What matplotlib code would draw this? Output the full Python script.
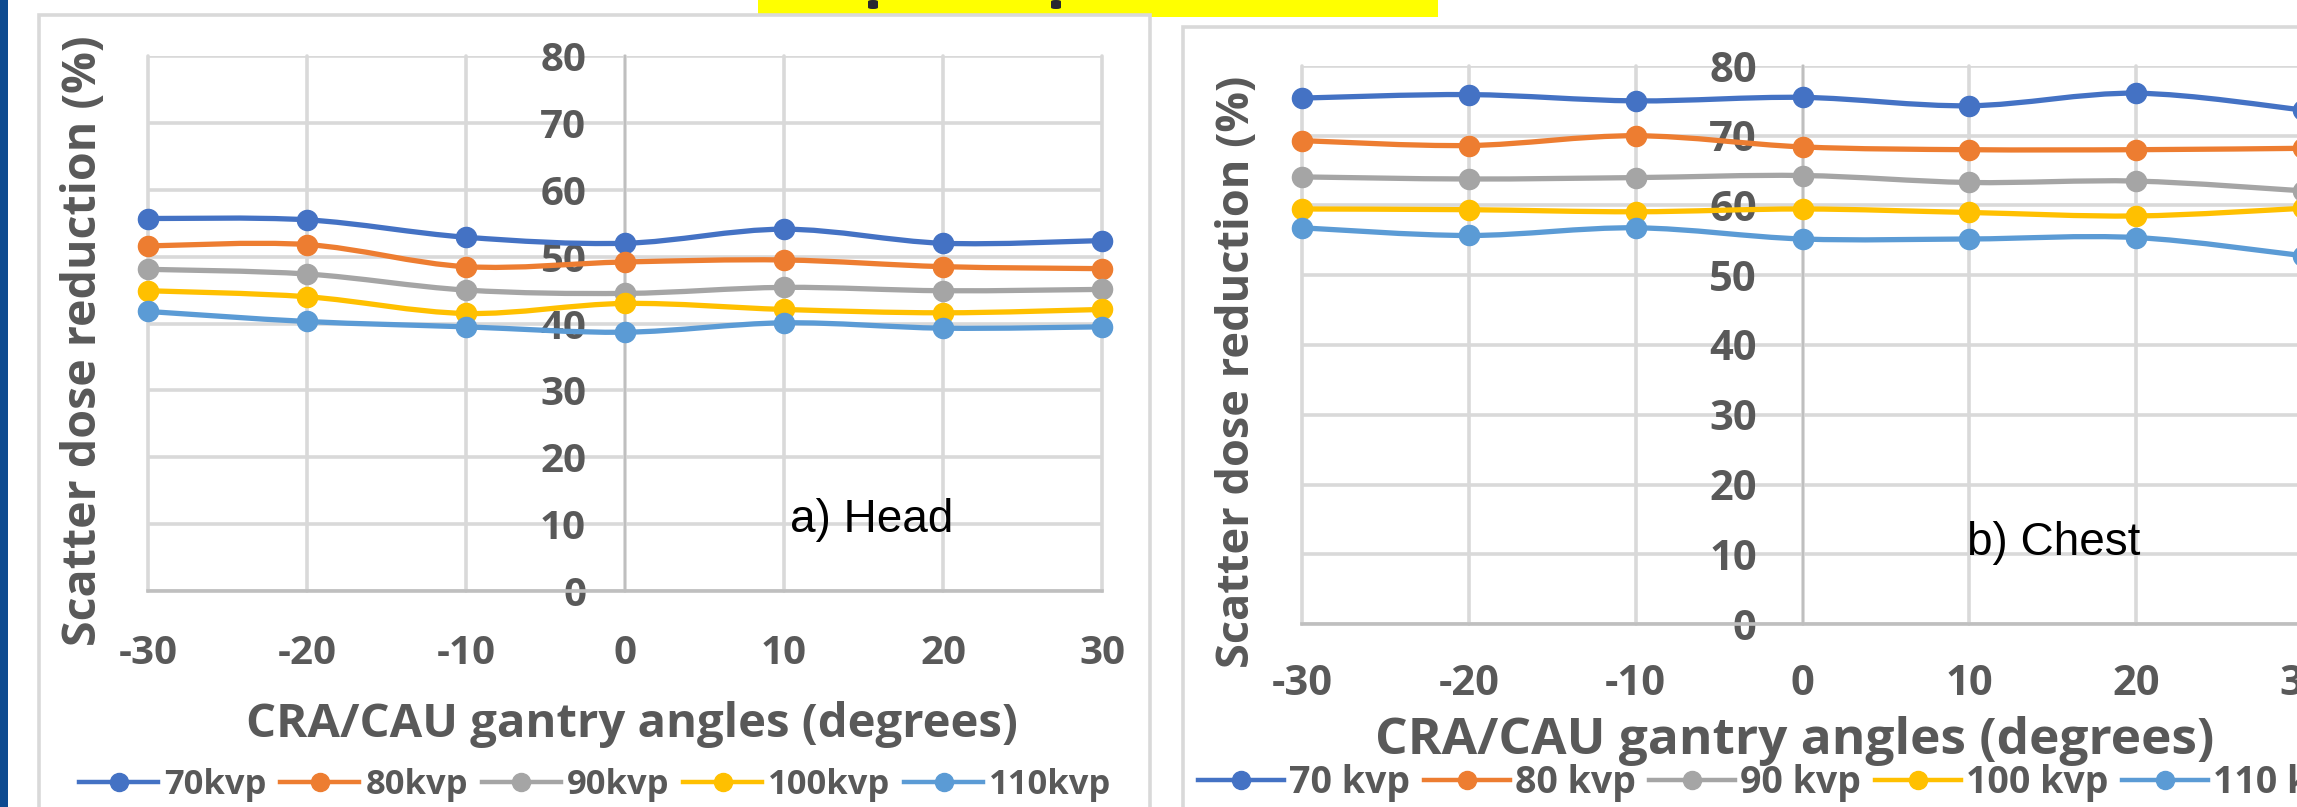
import numpy as np
import matplotlib
matplotlib.use("Agg")
import matplotlib.pyplot as plt
from matplotlib.path import Path
from matplotlib.patches import PathPatch, Rectangle, FancyBboxPatch
from matplotlib.lines import Line2D

# ---------------------------------------------------------------- data
angles = [-30, -20, -10, 0, 10, 20, 30]
y_ticks = [0, 10, 20, 30, 40, 50, 60, 70, 80]

head_labels = ["70kvp", "80kvp", "90kvp", "100kvp", "110kvp"]
head_70 = [55.7, 55.5, 52.9, 52.0, 54.1, 52.0, 52.4]
head_80 = [51.6, 51.8, 48.5, 49.2, 49.5, 48.5, 48.2]
head_90 = [48.1, 47.4, 45.0, 44.5, 45.4, 44.9, 45.1]
head_100 = [44.9, 44.0, 41.5, 43.0, 42.1, 41.6, 42.1]
head_110 = [41.8, 40.3, 39.5, 38.7, 40.1, 39.3, 39.5]

chest_labels = ["70 kvp", "80 kvp", "90 kvp", "100 kvp", "110 kvp"]
chest_70 = [75.4, 75.9, 75.0, 75.5, 74.3, 76.1, 73.7]
chest_80 = [69.3, 68.6, 70.0, 68.4, 68.0, 68.0, 68.2]
chest_90 = [64.1, 63.8, 64.0, 64.3, 63.3, 63.5, 62.1]
chest_100 = [59.5, 59.4, 59.1, 59.5, 59.0, 58.5, 59.6]
chest_110 = [56.8, 55.7, 56.8, 55.2, 55.2, 55.4, 52.8]

series_colors = ["#4472C4", "#ED7D31", "#A5A5A5", "#FFC000", "#5B9BD5"]

x_title = "CRA/CAU gantry angles (degrees)"
y_title = "Scatter dose reduction (%)"

# ---------------------------------------------------------------- layout
W, H = 2297, 807
fig = plt.figure(figsize=(W / 100, H / 100), dpi=100)
fig.patch.set_facecolor("white")

TEXT_GREY = "#595959"
GRID = "#D9D9D9"
AXIS = "#BFBFBF"
FONT = "Open Sans"


def fx(x):
    return x / W


def fy(y):
    return 1 - y / H


# slide decorations (kept beneath the chart axes)
fig.add_artist(Rectangle((0, 0), fx(8), 1, transform=fig.transFigure,
                         facecolor="#0D4A90", edgecolor="none", zorder=-3))
fig.add_artist(Rectangle((fx(758), fy(17)), fx(1438 - 758), 17 / H,
                         transform=fig.transFigure, facecolor="#FFFF00",
                         edgecolor="none", zorder=-3))
for bx in (868, 1051):
    fig.add_artist(FancyBboxPatch((fx(bx), fy(9)), fx(10), 9 / H,
                                  boxstyle="round,pad=0,rounding_size=0.002",
                                  transform=fig.transFigure,
                                  facecolor="#262630", edgecolor="none", zorder=-2.5))

# chart-area frames
fig.add_artist(Rectangle((fx(39), -0.1), fx(1150 - 39), fy(15) + 0.1,
                         transform=fig.transFigure, facecolor="white",
                         edgecolor=GRID, lw=2.6, zorder=-2))
fig.add_artist(Rectangle((fx(1183), -0.1), fx(1300), fy(27) + 0.1,
                         transform=fig.transFigure, facecolor="white",
                         edgecolor=GRID, lw=2.6, zorder=-2))


def smooth_path(xs, ys):
    pts = np.column_stack([xs, ys]).astype(float)
    n = len(pts)
    verts = [pts[0]]
    codes = [Path.MOVETO]
    for i in range(n - 1):
        p0 = pts[i - 1] if i > 0 else pts[i]
        p1, p2 = pts[i], pts[i + 1]
        p3 = pts[i + 2] if i + 2 < n else pts[i + 1]
        verts += [p1 + (p2 - p0) / 6, p2 - (p3 - p1) / 6, p2]
        codes += [Path.CURVE4] * 3
    return Path(verts, codes)


def draw_chart(box, series, labels, ypad, xpad, tick_size, xlab_pos, xlab_size,
               ylab_pos, ylab_size, note, note_pos, legend_cfg):
    left, top, right, bottom = box
    ax = fig.add_axes([fx(left), fy(bottom), fx(right - left), (bottom - top) / H])
    ax.set_facecolor("none")
    ax.set_xlim(-30, 30)
    ax.set_ylim(0, 80)
    ax.set_xticks(angles)
    ax.set_yticks(y_ticks)
    ax.set_xticklabels([str(a) for a in angles])
    ax.set_yticklabels([str(v) for v in y_ticks])
    ax.grid(True, color=GRID, lw=2.6)
    for gl in ax.get_xgridlines() + ax.get_ygridlines():
        gl.set_clip_on(False)
        gl.set_solid_capstyle("round")
    ax.set_axisbelow(True)
    for s in ("top", "right"):
        ax.spines[s].set_visible(False)
    ax.spines["left"].set_position(("data", 0))
    ax.spines["left"].set_color(AXIS)
    ax.spines["left"].set_linewidth(1.6)
    ax.spines["bottom"].set_color(AXIS)
    ax.spines["bottom"].set_linewidth(2.6)
    ax.tick_params(axis="y", length=0, pad=ypad, labelsize=tick_size,
                   labelcolor=TEXT_GREY)
    ax.tick_params(axis="x", length=0, pad=xpad, labelsize=tick_size,
                   labelcolor=TEXT_GREY)
    for t in ax.get_xticklabels() + ax.get_yticklabels():
        t.set_fontfamily(FONT)
        t.set_fontweight("bold")

    handles = []
    for vals, col, lab in zip(series, series_colors, labels):
        ax.add_patch(PathPatch(smooth_path(angles, vals), facecolor="none",
                               edgecolor=col, lw=3.8, capstyle="round",
                               joinstyle="round", zorder=3, clip_on=False))
        ax.plot(angles, vals, "o", color=col, ms=14.5, mec=col, zorder=4,
                clip_on=False)
        handles.append(Line2D([], [], color=col, lw=3.2, marker="o", ms=13,
                              mec=col, label=lab))

    fig.text(fx(xlab_pos[0]), fy(xlab_pos[1]), x_title, ha="center",
             va="baseline", fontsize=xlab_size, fontweight="bold",
             family=FONT, color=TEXT_GREY)
    fig.text(fx(ylab_pos[0]), fy(ylab_pos[1]), y_title, ha="center",
             va="center", rotation=90, fontsize=ylab_size, fontweight="bold",
             family=FONT, color=TEXT_GREY)
    fig.text(fx(note_pos[0]), fy(note_pos[1]), note, ha="left",
             va="baseline", fontsize=33, family="Liberation Sans",
             color="black")

    lx, ly, size, hlen, tpad, cspace = legend_cfg
    ax.legend(handles=handles, loc="center left", ncol=5,
              bbox_to_anchor=(fx(lx), fy(ly)), bbox_transform=fig.transFigure,
              frameon=False, borderpad=0, borderaxespad=0,
              handlelength=hlen, handletextpad=tpad, columnspacing=cspace,
              prop={"family": FONT, "weight": "bold", "size": size},
              labelcolor=TEXT_GREY)
    return ax


draw_chart((148, 56, 1102, 591),
           [head_70, head_80, head_90, head_100, head_110], head_labels,
           ypad=28, xpad=31, tick_size=29, xlab_pos=(632, 737), xlab_size=34,
           ylab_pos=(84, 341), ylab_size=33.5,
           note="a) Head", note_pos=(790, 532),
           legend_cfg=(79, 785, 24.8, 2.3, 0.17, 0.4))

draw_chart((1302, 66, 2303, 624),
           [chest_70, chest_80, chest_90, chest_100, chest_110], chest_labels,
           ypad=33, xpad=29, tick_size=30, xlab_pos=(1795, 754), xlab_size=37,
           ylab_pos=(1237, 372), ylab_size=32.5,
           note="b) Chest", note_pos=(1967, 555),
           legend_cfg=(1198, 783, 27, 2.3, 0.13, 0.36))

fig.savefig("out.png", dpi=100, facecolor="white")
